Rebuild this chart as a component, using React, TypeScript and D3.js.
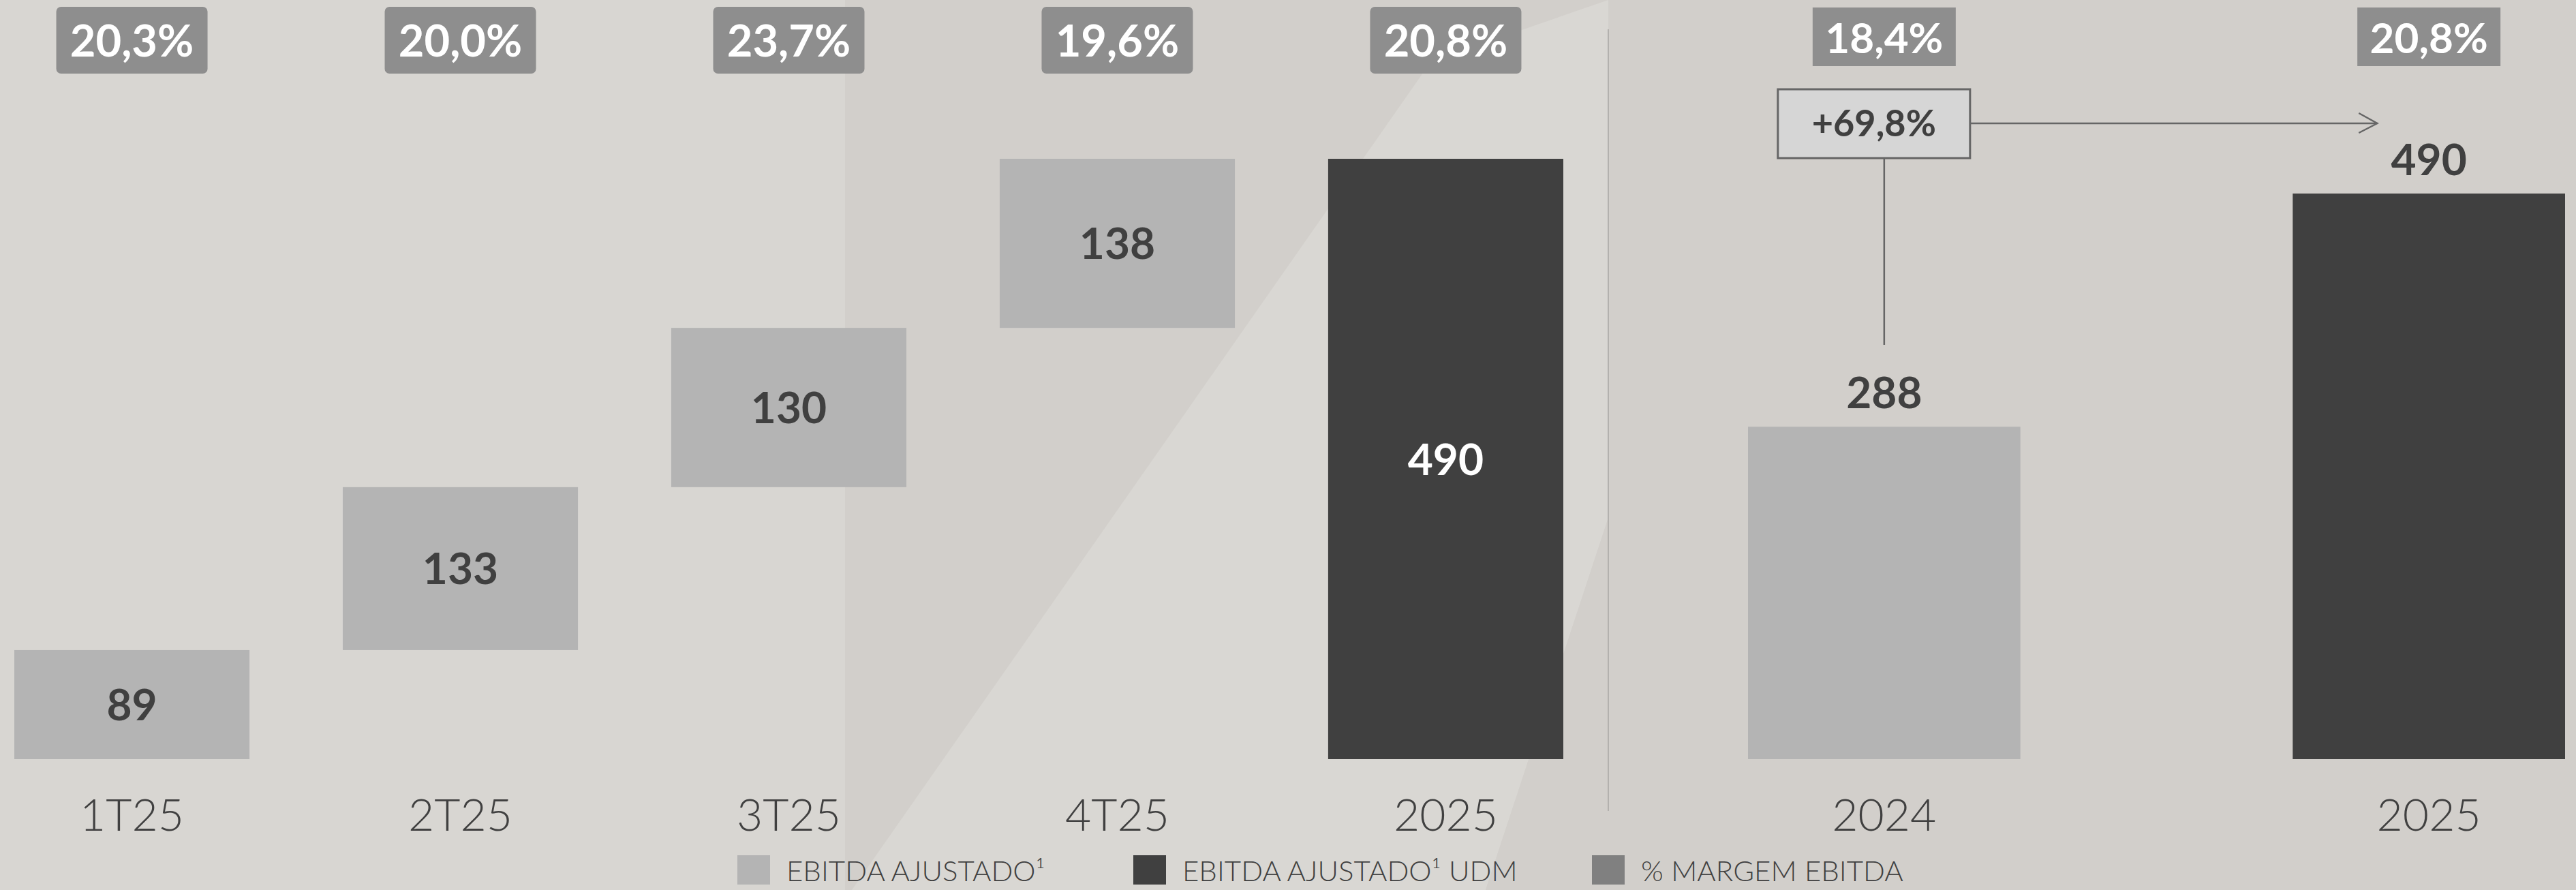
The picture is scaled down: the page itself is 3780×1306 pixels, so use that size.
import React from "react";
import * as d3 from "d3";

const periods = ["1T25", "2T25", "3T25", "4T25", "2025"];
const quarterly = [89, 133, 130, 138];
const ttmTotal = 490;
const margins = ["20,3%", "20,0%", "23,7%", "19,6%", "20,8%"];

const years = ["2024", "2025"];
const annual = [288, 490];
const annualMargins = ["18,4%", "20,8%"];
const growthLabel = "+69,8%";

const legendItems = ["EBITDA AJUSTADO¹", "EBITDA AJUSTADO¹ UDM", "% MARGEM EBITDA"];

const W = 3780;
const H = 1306;
const LIGHT = "#b4b4b4";
const DARK = "#404040";
const BADGE = "#8e8e8e";
const TEXT = "#404040";
const FONT = "Lato, 'Open Sans', sans-serif";

export default function App() {
  const base = 1114;
  const xL = d3.scaleBand<string>().domain(periods).range([21, 2294]).paddingInner(0.284).paddingOuter(0);
  const yL = d3.scaleLinear().domain([0, ttmTotal]).range([base, 233]);
  const xR = d3.scaleBand<string>().domain(years).range([2565, 3764]).paddingInner(0.5).paddingOuter(0);
  const yR = d3.scaleLinear().domain([0, d3.max(annual) as number]).range([base, 284]);

  const cum = Array.from(d3.cumsum(quarterly));
  const steps = quarterly.map((v, i) => ({
    key: periods[i],
    v,
    y0: i === 0 ? 0 : cum[i - 1],
    y1: cum[i],
  }));

  const bwL = xL.bandwidth();
  const bwR = xR.bandwidth();
  const c2024 = (xR("2024") as number) + bwR / 2;
  const boxCx = c2024 - 15;
  const boxW = 282;
  const boxTop = 131;
  const boxBot = 232;
  const arrowY = 181;
  const arrowTip = (xR("2025") as number) + 124;

  const legendX = [1082, 1663, 2336];
  const legendCol = [LIGHT, DARK, "#808080"];

  return (
    <svg
      width={W}
      height={H}
      viewBox={`0 0 ${W} ${H}`}
      style={{ position: "absolute", left: 0, top: 0, display: "block" }}
    >
      {/* background */}
      <rect x={0} y={0} width={W} height={H} fill="#d2cfcb" />
      <rect x={0} y={0} width={1240} height={H} fill="#d8d6d2" />
      <polygon points="2100,90 2360,0 2360,760 2180,1306 1250,1306" fill="#d9d7d3" />
      <polygon points="2180,1306 2360,760 2360,1306" fill="#d2cfcb" />

      {/* divider */}
      <line x1={2360} x2={2360} y1={43} y2={1190} stroke="#b3b1ae" strokeWidth={2} />

      {/* left panel: waterfall */}
      {steps.map((s) => (
        <g key={s.key}>
          <rect x={xL(s.key)} y={yL(s.y1)} width={bwL} height={yL(s.y0) - yL(s.y1)} fill={LIGHT} />
          <text
            x={(xL(s.key) as number) + bwL / 2}
            y={(yL(s.y0) + yL(s.y1)) / 2}
            dy="0.36em"
            textAnchor="middle"
            fontFamily={FONT}
            fontWeight={700}
            fontSize={64}
            fill={TEXT}
          >
            {s.v}
          </text>
        </g>
      ))}
      <rect x={xL("2025")} y={yL(ttmTotal)} width={bwL} height={yL(0) - yL(ttmTotal)} fill={DARK} />
      <text
        x={(xL("2025") as number) + bwL / 2}
        y={(yL(0) + yL(ttmTotal)) / 2}
        dy="0.36em"
        textAnchor="middle"
        fontFamily={FONT}
        fontWeight={700}
        fontSize={64}
        fill="#ffffff"
      >
        {ttmTotal}
      </text>

      {/* left margin badges */}
      {periods.map((p, i) => {
        const cx = (xL(p) as number) + bwL / 2;
        return (
          <g key={"b" + p}>
            <rect x={cx - 111} y={10} width={222} height={98} rx={7} fill={BADGE} />
            <text x={cx} y={83} textAnchor="middle" fontFamily={FONT} fontWeight={700} fontSize={65} fill="#ffffff">
              {margins[i]}
            </text>
          </g>
        );
      })}

      {/* left x labels */}
      {periods.map((p) => (
        <text
          key={"l" + p}
          x={(xL(p) as number) + bwL / 2}
          y={1219}
          textAnchor="middle"
          fontFamily={FONT}
          fontWeight={300}
          fontSize={66}
          fill={TEXT}
        >
          {p}
        </text>
      ))}

      {/* right panel */}
      {years.map((yr, i) => {
        const cx = (xR(yr) as number) + bwR / 2;
        return (
          <g key={"r" + yr}>
            <rect x={xR(yr)} y={yR(annual[i])} width={bwR} height={yR(0) - yR(annual[i])} fill={i === 0 ? LIGHT : DARK} />
            <text x={cx} y={yR(annual[i]) - 27} textAnchor="middle" fontFamily={FONT} fontWeight={700} fontSize={64} fill={TEXT}>
              {annual[i]}
            </text>
            <rect x={cx - 105} y={11} width={210} height={86} fill={BADGE} />
            <text x={cx} y={78} textAnchor="middle" fontFamily={FONT} fontWeight={700} fontSize={62} fill="#ffffff">
              {annualMargins[i]}
            </text>
            <text x={cx} y={1219} textAnchor="middle" fontFamily={FONT} fontWeight={300} fontSize={66} fill={TEXT}>
              {yr}
            </text>
          </g>
        );
      })}

      {/* growth annotation */}
      <line x1={c2024} x2={c2024} y1={boxBot} y2={506} stroke="#666666" strokeWidth={2.5} />
      <line x1={boxCx + boxW / 2} x2={arrowTip} y1={arrowY} y2={arrowY} stroke="#666666" strokeWidth={2.5} />
      <polyline
        points={`${arrowTip - 27},${arrowY - 15} ${arrowTip},${arrowY} ${arrowTip - 27},${arrowY + 14}`}
        fill="none"
        stroke="#666666"
        strokeWidth={2.5}
      />
      <rect x={boxCx - boxW / 2} y={boxTop} width={boxW} height={boxBot - boxTop} fill="#d6d6d6" stroke="#666666" strokeWidth={3} />
      <text x={boxCx} y={200} textAnchor="middle" fontFamily={FONT} fontWeight={700} fontSize={54} fill={TEXT}>
        {growthLabel}
      </text>

      {/* legend */}
      {legendItems.map((t, i) => (
        <g key={"lg" + i}>
          <rect x={legendX[i]} y={1255} width={48} height={43} fill={legendCol[i]} />
          <text x={legendX[i] + 72} y={1293} fontFamily={FONT} fontWeight={300} fontSize={42} fill={TEXT}>
            {t}
          </text>
        </g>
      ))}
    </svg>
  );
}
